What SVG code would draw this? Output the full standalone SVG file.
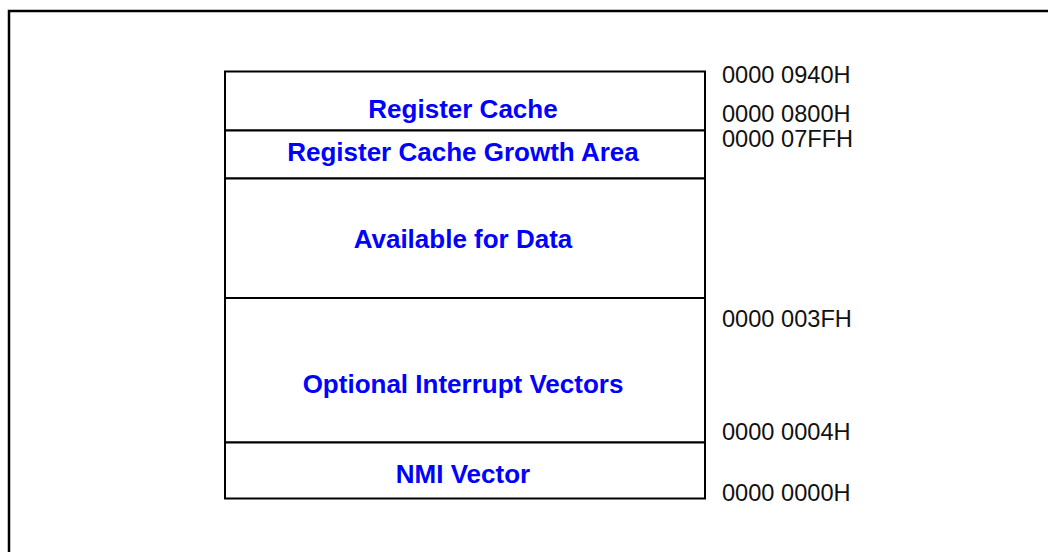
<svg xmlns="http://www.w3.org/2000/svg" width="1048" height="552" viewBox="0 0 1048 552">
  <style>
    .frame { fill: none; stroke: #000; stroke-width: 2.5; }
    .cell { fill: #fff; stroke: #000; stroke-width: 2; }
    .title { font-family: "Liberation Sans", Arial, sans-serif; font-weight: bold; font-size: 26px; fill: #0000ff; text-anchor: middle; }
    .addr { font-family: "Liberation Sans", Arial, sans-serif; font-size: 23.6px; fill: #111; }
  </style>
  <rect width="1048" height="552" fill="#fff"/>
  <!-- outer frame, running off the right and bottom edges -->
  <rect class="frame" x="9" y="11" width="1060" height="560"/>

  <!-- memory map regions, top to bottom -->
  <g id="register-cache">
    <rect class="cell" x="225" y="71.5" width="480" height="59"/>
    <text class="title" x="463" y="118">Register Cache</text>
  </g>
  <g id="register-cache-growth-area">
    <rect class="cell" x="225" y="130.5" width="480" height="48"/>
    <text class="title" x="463" y="161">Register Cache Growth Area</text>
  </g>
  <g id="available-for-data">
    <rect class="cell" x="225" y="178.5" width="480" height="119.5"/>
    <text class="title" x="463" y="248">Available for Data</text>
  </g>
  <g id="optional-interrupt-vectors">
    <rect class="cell" x="225" y="298" width="480" height="144.5"/>
    <text class="title" x="463" y="393">Optional Interrupt Vectors</text>
  </g>
  <g id="nmi-vector">
    <rect class="cell" x="225" y="442.5" width="480" height="56"/>
    <text class="title" x="463" y="483">NMI Vector</text>
  </g>

  <!-- address labels -->
  <g id="addresses">
    <text class="addr" x="722" y="83">0000 0940H</text>
    <text class="addr" x="722" y="122">0000 0800H</text>
    <text class="addr" x="722" y="147">0000 07FFH</text>
    <text class="addr" x="722" y="327">0000 003FH</text>
    <text class="addr" x="722" y="440">0000 0004H</text>
    <text class="addr" x="722" y="501">0000 0000H</text>
  </g>
</svg>
